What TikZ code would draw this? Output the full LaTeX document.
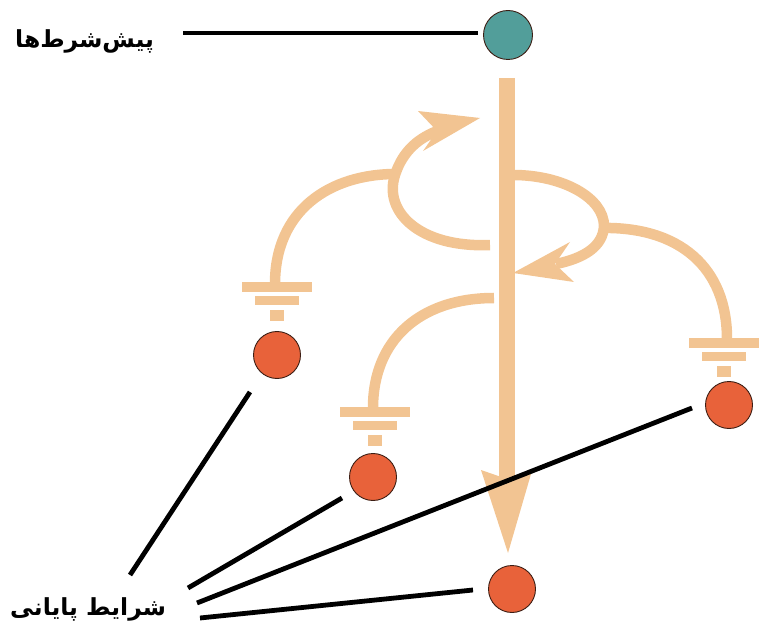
\documentclass[tikz,border=0pt]{standalone}
\usepackage{fontspec}
\newfontfamily\arabicfont[Script=Arabic]{DejaVu Sans}
\TeXXeTstate=1
\definecolor{tealdot}{RGB}{82,158,154}
\definecolor{reddot}{RGB}{232,98,58}
\definecolor{peach}{RGB}{242,196,146}
\definecolor{rim}{RGB}{60,30,20}
\tikzset{
  dot/.style={circle, minimum size=47pt, inner sep=0pt, draw=rim, line width=0.9pt},
  startdot/.style={dot, fill=tealdot, minimum size=49pt},
  enddot/.style={dot, fill=reddot},
  flow/.style={draw=peach, line width=10.5pt},
  shaft/.style={draw=peach, line width=16pt},
  tip/.style={fill=peach},
  leader/.style={draw=black, line width=4.8pt},
  label/.style={font=\arabicfont\bfseries\fontsize{23.5}{23.5}\selectfont, inner sep=0pt},
  groundsym/.pic={
    \fill[peach] (-35,0) rectangle (35,10);
    \fill[peach] (-22,14) rectangle (22,23);
    \fill[peach] (-7,28) rectangle (7,39);
  }
}
\begin{document}
\begin{tikzpicture}[x=1pt, y=-1pt]
\useasboundingbox (0,0) rectangle (761,631);

% main vertical flow with its arrowhead
\path[shaft] (507,78) -- (507,480);
\fill[tip] (481,470) -- (507,479) -- (531,474) -- (508,553) -- cycle;

% upper left loop ending in an arrow back towards the shaft
\path[flow] (490,245) .. controls (420,248) and (383,212) .. (395,175)
            .. controls (403,150) and (420,137) .. (440,130);
\fill[tip] (480,118) -- (418,111) -- (437,131) -- (423,151) -- cycle;
\path[flow] (275,284) .. controls (275,210) and (330,174) .. (396,174);

% right loop ending in an arrow onto the shaft
\path[flow] (513,175) .. controls (563,175) and (604,198) .. (604,226)
            .. controls (603,246) and (585,258) .. (556,264);
\fill[tip] (513,273) -- (570,242) -- (555,264) -- (574,282) -- cycle;
\path[flow] (600,228) .. controls (680,226) and (727,268) .. (727,339);

% lower left branch
\path[flow] (494,298) .. controls (420,298) and (373,340) .. (373,408);

% ground symbols above the end states
\pic at (277,282) {groundsym};
\pic at (375,407) {groundsym};
\pic at (724,338) {groundsym};

% labels
\node[label, anchor=base west] (prelabel) at (15,48) {\beginR پیش‌شرط‌ها\endR};
\node[label, anchor=base west] (endlabel) at (10,615) {\beginR شرایط پایانی\endR};

% states
\node[startdot] (pre) at (508,35) {};
\node[enddot] (e1) at (277,355) {};
\node[enddot] (e2) at (373,477) {};
\node[enddot] (e3) at (729,405) {};
\node[enddot] (e4) at (512,589) {};

% leader lines
\coordinate (p0) at (183,33);
\coordinate (p1) at (478,33);
\coordinate (a0) at (130,575);
\coordinate (a1) at (250,392);
\coordinate (b0) at (188,588);
\coordinate (b1) at (342,498);
\coordinate (c0) at (197,603);
\coordinate (c1) at (692,408);
\coordinate (d0) at (200,618);
\coordinate (d1) at (473,590);
\path[leader] (p0) -- (p1);
\path[leader] (a0) -- (a1);
\path[leader] (b0) -- (b1);
\path[leader] (c0) -- (c1);
\path[leader] (d0) -- (d1);
\end{tikzpicture}
\end{document}
